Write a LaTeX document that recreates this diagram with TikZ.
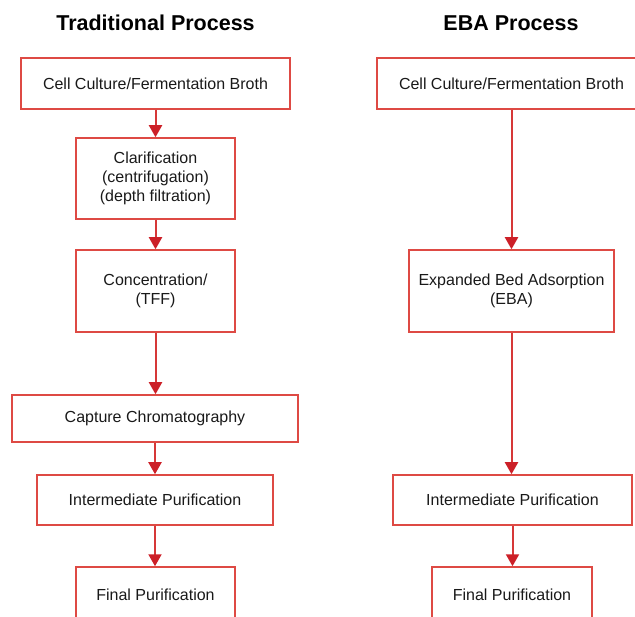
\documentclass[tikz,border=0pt]{standalone}
\usepackage{fontspec}
\setmainfont{Liberation Sans}
\usetikzlibrary{arrows.meta}
\definecolor{boxred}{RGB}{222,74,68}
\definecolor{arrred}{RGB}{204,32,40}
\definecolor{linered}{RGB}{214,56,56}
\tikzset{
  bodyfont/.style={font=\fontsize{16}{19}\selectfont, text=black!90},
  stepbox/.style={draw=boxred, line width=1.5pt, rectangle, inner sep=0pt, align=center, bodyfont},
  conn/.style={color=linered, line width=2pt, -{Triangle[length=12pt,width=13pt,color=arrred]}},
  ttl/.style={font=\bfseries\fontsize{21.5}{25}\selectfont, text=black}
}
\begin{document}
\begin{tikzpicture}[x=1pt,y=-1pt]
\useasboundingbox (0,0) rectangle (635,617);
\clip (0,0) rectangle (635,617);
\node[ttl] (t1) at (155.5,23) {Traditional Process};
\node[ttl] (t2) at (511,23) {EBA Process};
% left column
\node[stepbox, minimum width=269pt, minimum height=51pt] (l1) at (155.5,83.5) {Cell Culture/Fermentation Broth};
\node[stepbox, minimum width=159pt, minimum height=81pt] (l2) at (155.5,178.5) {Clarification\\(centrifugation)\\(depth filtration)};
\node[stepbox, minimum width=159pt, minimum height=82pt] (l3) at (155.5,291) {Concentration/\\(TFF)};
\node[stepbox, minimum width=286pt, minimum height=47pt] (l4) at (155,418.5) {Capture Chromatography};
\node[stepbox, minimum width=236pt, minimum height=50pt] (l5) at (155,500) {Intermediate Purification};
\node[stepbox, minimum width=159pt, minimum height=56pt] (l6) at (155.5,595) {};
\node[bodyfont] (l6t) at (155.5,594.5) {Final Purification};
% right column
\node[stepbox, minimum width=269pt, minimum height=51pt] (r1) at (511.5,83.5) {Cell Culture/Fermentation Broth};
\node[stepbox, minimum width=205pt, minimum height=82pt] (r2) at (511.5,291) {Expanded Bed Adsorption\\(EBA)};
\node[stepbox, minimum width=239pt, minimum height=50pt] (r3) at (512.5,500) {Intermediate Purification};
\node[stepbox, minimum width=160pt, minimum height=56pt] (r4) at (512,595) {};
\node[bodyfont] (r4t) at (512,594.5) {Final Purification};
% connectors
\draw[conn] (l1.south) -- (l2.north);
\draw[conn] (l2.south) -- (l3.north);
\draw[conn] (l3.south) -- (l3.south |- l4.north);
\draw[conn] (l4.south) -- (l4.south |- l5.north);
\draw[conn] (l5.south) -- (l5.south |- l6.north);
\draw[conn] (r1.south) -- (r2.north);
\draw[conn] (r2.south) -- (r2.south |- r3.north);
\draw[conn] (r3.south) -- (r3.south |- r4.north);
\end{tikzpicture}
\end{document}
